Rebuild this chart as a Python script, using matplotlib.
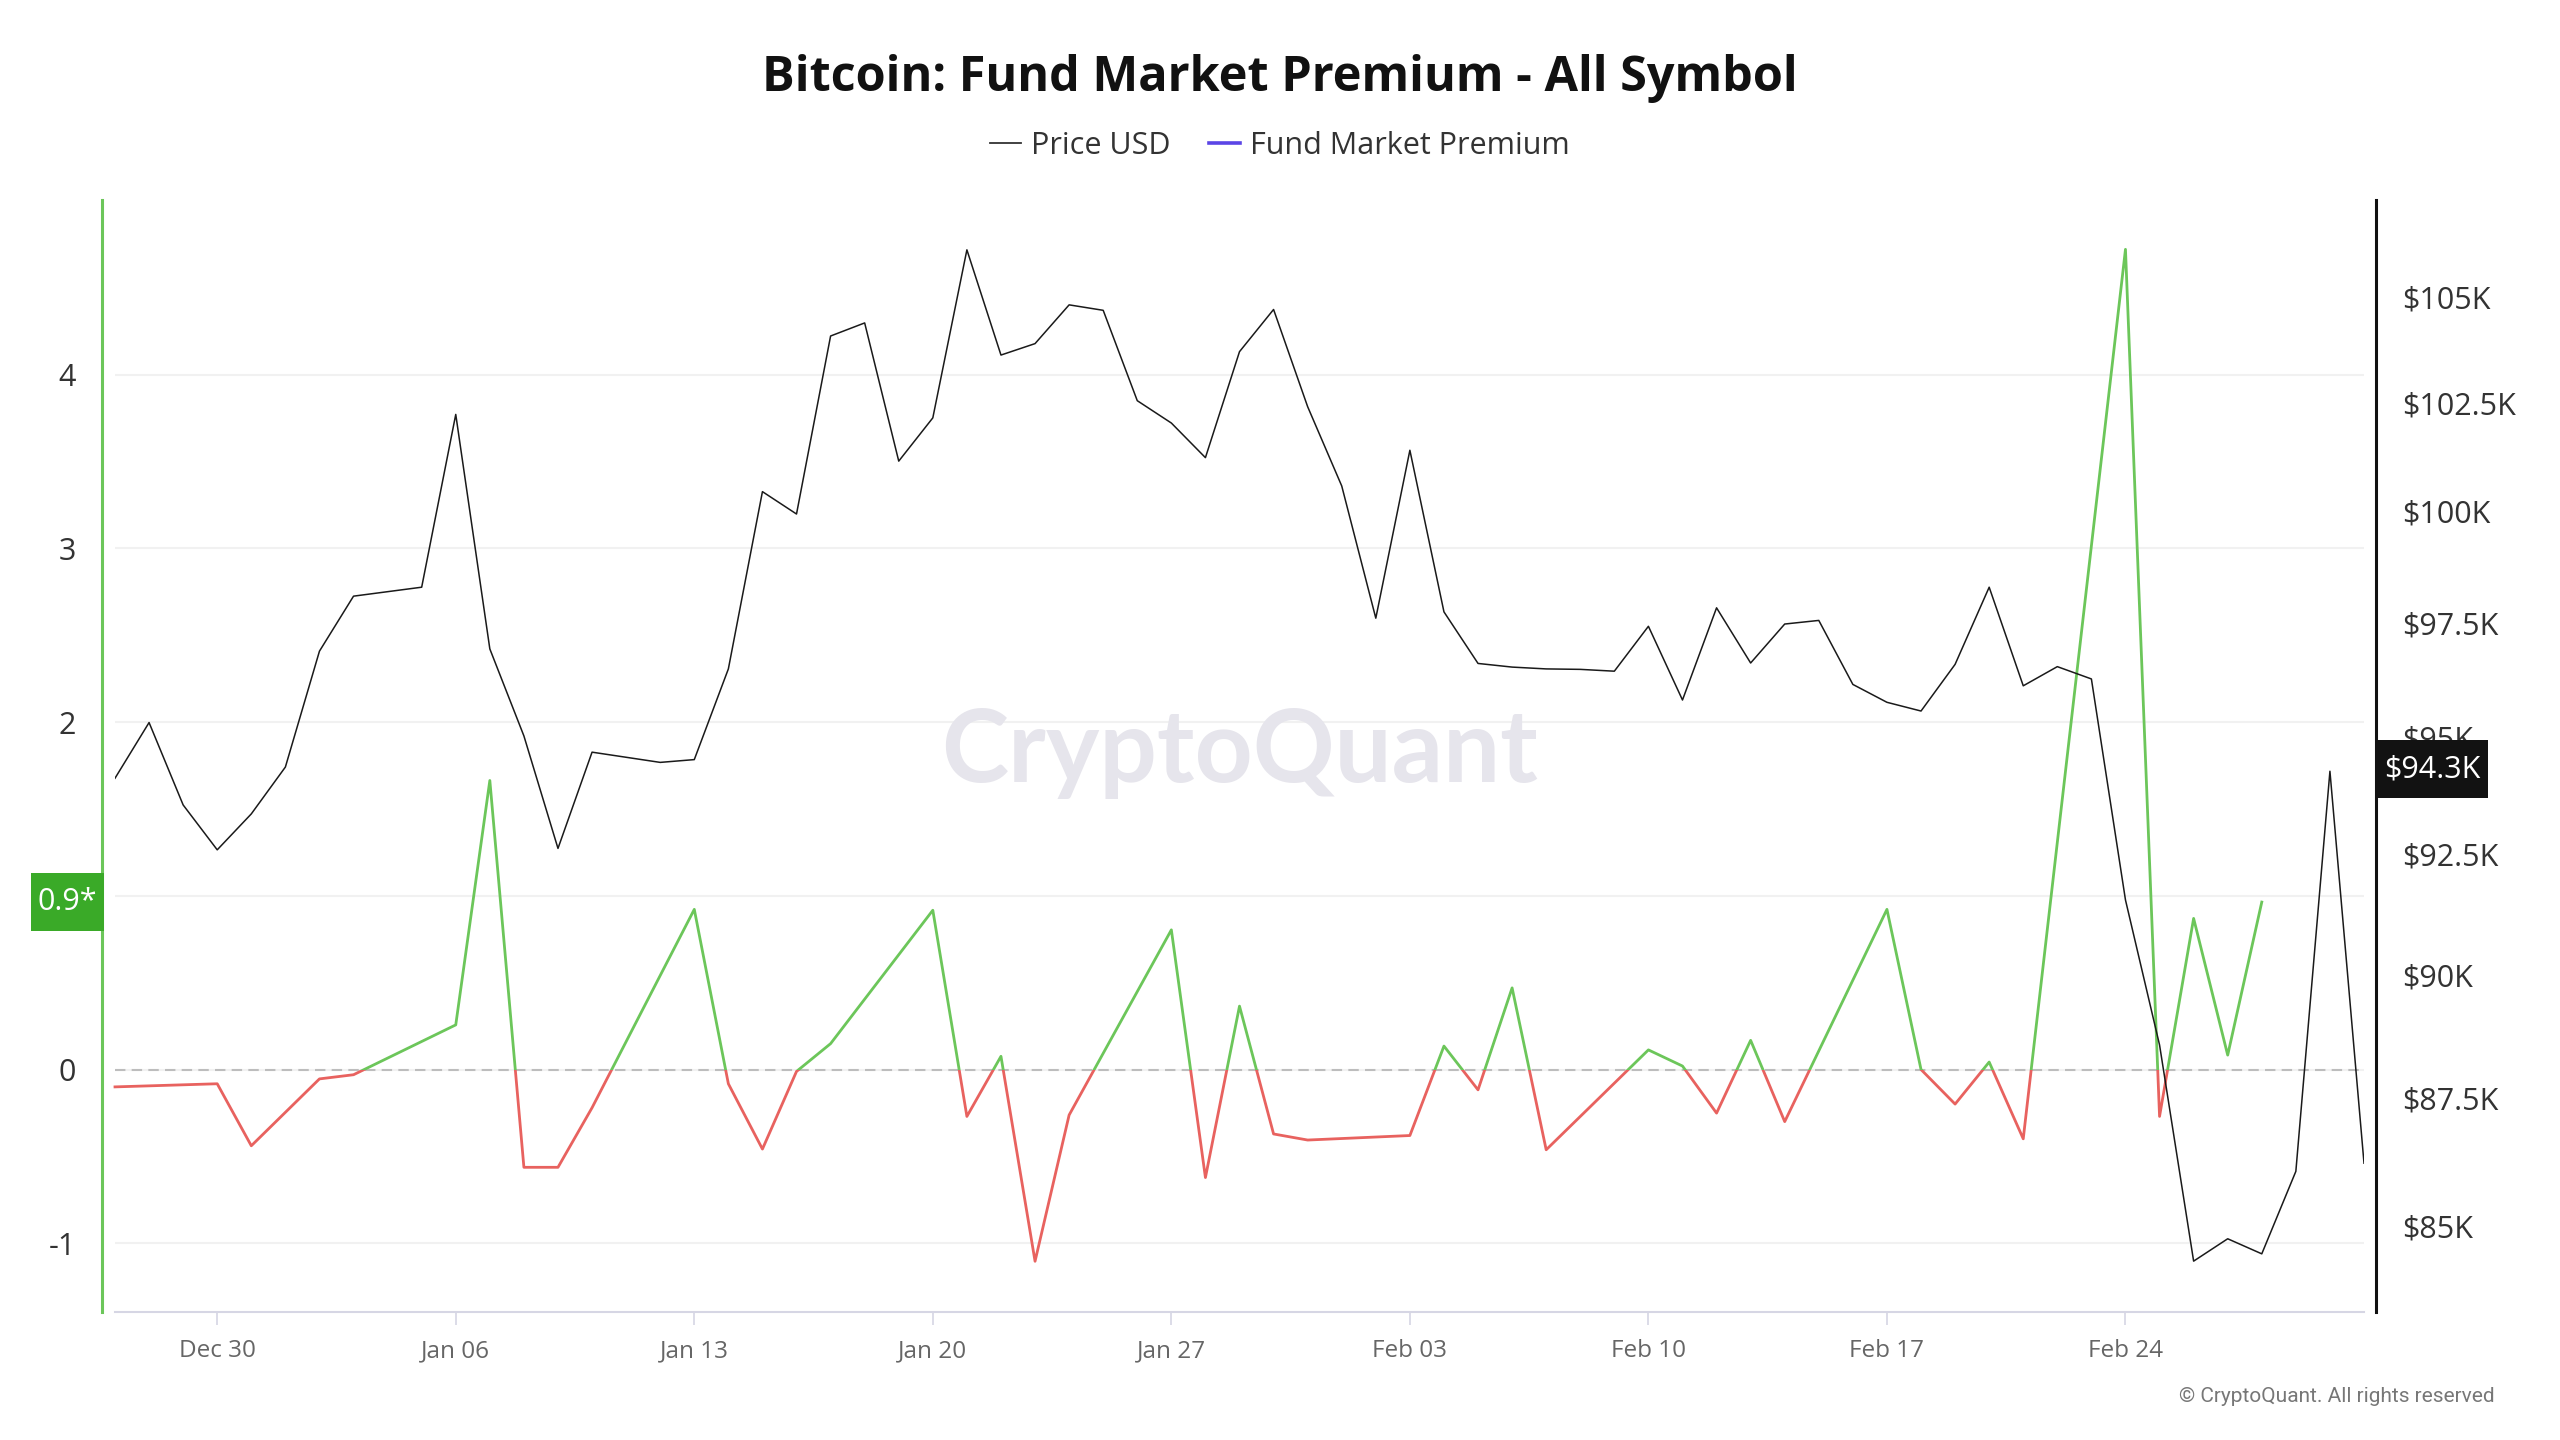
import numpy as np
import pandas as pd
import matplotlib
matplotlib.use('Agg')
import matplotlib.pyplot as plt
import matplotlib.dates as mdates
from matplotlib.patches import Rectangle
from matplotlib.lines import Line2D
from matplotlib.ticker import FixedLocator, NullLocator

plt.rcParams['font.family'] = ['Open Sans', 'DejaVu Sans']

# daily BTC price (thousand USD), Dec 27 2024 .. Mar 3 2025
price_start = '2024-12-27'
price_k = [94.11, 95.31, 93.54, 92.59, 93.35, 94.35, 96.87, 98.09, 98.19, 98.29,
           102.23, 96.92, 95.02, 92.62, 94.67, 94.56, 94.45, 94.51, 96.48, 100.45,
           99.94, 104.07, 104.38, 101.15, 102.15, 106.13, 103.62, 103.89, 104.81, 104.68,
           102.55, 102.03, 101.23, 103.70, 104.70, 102.41, 100.58, 97.60, 101.40, 97.74,
           96.60, 96.52, 96.48, 96.47, 96.43, 97.42, 95.80, 97.83, 96.61, 97.47,
           97.55, 96.14, 95.75, 95.56, 96.58, 98.29, 96.11, 96.53, 96.26, 91.54,
           88.57, 84.32, 84.75, 84.46, 86.06, 94.26, 86.22]

# fund market premium, trading days only
prem_dates = ['2024-12-27', '2024-12-30', '2024-12-31', '2025-01-02', '2025-01-03',
              '2025-01-06', '2025-01-07', '2025-01-08', '2025-01-09', '2025-01-10',
              '2025-01-13', '2025-01-14', '2025-01-15', '2025-01-16', '2025-01-17',
              '2025-01-20', '2025-01-21', '2025-01-22', '2025-01-23', '2025-01-24',
              '2025-01-27', '2025-01-28', '2025-01-29', '2025-01-30', '2025-01-31',
              '2025-02-03', '2025-02-04', '2025-02-05', '2025-02-06', '2025-02-07',
              '2025-02-10', '2025-02-11', '2025-02-12', '2025-02-13', '2025-02-14',
              '2025-02-17', '2025-02-18', '2025-02-19', '2025-02-20', '2025-02-21',
              '2025-02-24', '2025-02-25', '2025-02-26', '2025-02-27', '2025-02-28']
prem = [-0.100, -0.082, -0.439, -0.054, -0.030,
        0.257, 1.664, -0.563, -0.563, -0.220,
        0.922, -0.082, -0.458, -0.011, 0.149,
        0.917, -0.270, 0.076, -1.104, -0.262,
        0.804, -0.622, 0.365, -0.371, -0.406,
        -0.380, 0.135, -0.117, 0.470, -0.462,
        0.113, 0.020, -0.251, 0.168, -0.300,
        0.922, 0.000, -0.199, 0.043, -0.399,
        4.722, -0.270, 0.870, 0.083, 0.964]

x_ticks = ['2024-12-30', '2025-01-06', '2025-01-13', '2025-01-20', '2025-01-27',
           '2025-02-03', '2025-02-10', '2025-02-17', '2025-02-24']
left_ticks = [4, 3, 2, 1, 0, -1]
left_labels = ['4', '3', '2', '', '0', '-1']   # "1" sits under the value box
price_ticks = [85000, 87500, 90000, 92500, 95000, 97500, 100000, 102500, 105000]
last_prem_label = '0.9*'
last_price = 94300
last_price_label = '$94.3K'

GREEN = '#6cc65a'
RED = '#e8625f'
BOX_GREEN = '#3aaa28'
W, H = 2560, 1440

price_dates = pd.date_range(price_start, periods=len(price_k), freq='D')
price = np.array(price_k) * 1000
pdates = pd.to_datetime(prem_dates)

fig = plt.figure(figsize=(25.6, 14.4), dpi=100)
ax = fig.add_axes([0.04492, 0.08889, 0.87852, 0.77222])
ax2 = ax.twinx()

# premium line: green above zero, red below
ax.set_ylim(-1.396, 5.006)
lg, = ax.plot(pdates, prem, color=GREEN, lw=2.0, zorder=3)
lr, = ax.plot(pdates, prem, color=RED, lw=2.0, zorder=3)
up = Rectangle((-1e6, 0), 2e6, 100, transform=ax.transData)
dn = Rectangle((-1e6, -100), 2e6, 100, transform=ax.transData)
lg.set_clip_path(up)
lr.set_clip_path(dn)
ax.axhline(0, color='#bdbdbd', lw=1.5, ls=(0, (5, 3)), zorder=2)

ax.set_yticks(left_ticks)
ax.set_yticklabels(left_labels)
ax.yaxis.grid(True, color='#f1f1f1', lw=1.5)
ax.set_axisbelow(True)
ax.tick_params(axis='y', length=0, pad=18.5, labelsize=22, labelcolor='#333333')

ax.set_xlim(price_dates[0], price_dates[-1])
ax.xaxis.set_major_locator(FixedLocator(mdates.date2num(pd.to_datetime(x_ticks))))
ax.xaxis.set_major_formatter(mdates.DateFormatter('%b %d'))
ax.tick_params(axis='x', length=9, width=1.2, color='#d6d6e4', pad=10.5,
               labelsize=17.5, labelcolor='#666666')

for s in ['top', 'right']:
    ax.spines[s].set_visible(False)
ax.spines['left'].set_position(('outward', 9.4))
ax.spines['left'].set_color(GREEN)
ax.spines['left'].set_linewidth(2.2)
ax.spines['bottom'].set_color('#d6d6e4')
ax.spines['bottom'].set_linewidth(1.5)

# price line on log axis
ax2.plot(price_dates, price, color='#1a1a1a', lw=1.1, zorder=3)
ax2.set_yscale('log')
ax2.set_ylim(83350, 107340)
ax2.yaxis.set_major_locator(FixedLocator(price_ticks))
ax2.yaxis.set_minor_locator(NullLocator())
ax2.set_yticklabels(['$%gK' % (v / 1000) for v in price_ticks])
ax2.tick_params(axis='y', which='both', length=0, pad=18.5, labelsize=22, labelcolor='#333333')
for s in ['top', 'left', 'bottom']:
    ax2.spines[s].set_visible(False)
ax2.spines['right'].set_position(('outward', 8.6))
ax2.spines['right'].set_color('#111111')
ax2.spines['right'].set_linewidth(2.2)

# watermark
ax.text(0.4841, 0.4569, 'CryptoQuant', transform=fig.transFigure, ha='center', va='baseline',
        fontsize=73, family='Lato', fontweight='bold', color='#e6e5ec', zorder=1)


def value_box(axis, val, x0, x1, text, color):
    # box in figure pixels, centred on the value's height
    yc = axis.transData.transform((0, val))[1]
    bh = 58
    fig.patches.append(Rectangle((x0 / W, (yc - bh / 2) / H), (x1 - x0) / W, bh / H,
                                 transform=fig.transFigure, fc=color, ec='none', zorder=9))
    fig.text((x0 + x1) / 2 / W, yc / H, text, ha='center', va='center', fontsize=22,
             color='white', zorder=10)


value_box(ax, prem[-1], 31, 104, last_prem_label, BOX_GREEN)
value_box(ax2, last_price, 2376, 2488, last_price_label, '#121212')

fig.text(0.5, 0.9368, 'Bitcoin: Fund Market Premium - All Symbol', ha='center', va='baseline',
         fontsize=35, fontweight='bold', color='#111111')

handles = [Line2D([], [], color='#333333', lw=1.3), Line2D([], [], color='#5b45e6', lw=2.6)]
fig.legend(handles, ['Price USD', 'Fund Market Premium'], loc='center', bbox_to_anchor=(0.5, 0.8985),
           ncol=2, frameon=False, fontsize=22, handlelength=1.0, handletextpad=0.35,
           columnspacing=1.25, labelcolor='#333333')

fig.text(0.9746, 0.0299, '\u00a9 CryptoQuant. All rights reserved', ha='right', va='center',
         fontsize=15, family='Roboto', color='#777777')

fig.savefig('out.png', dpi=100)
